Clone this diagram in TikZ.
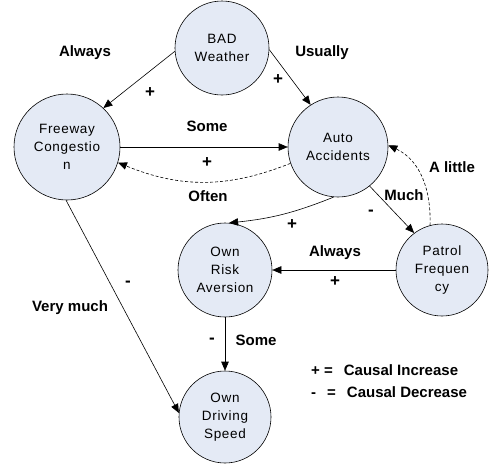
\documentclass[tikz,border=0pt]{standalone}
\usepackage{fontspec}
\setmainfont{Liberation Sans}
\newfontfamily\nodefont[LetterSpace=5]{Liberation Sans}
\usetikzlibrary{arrows.meta}
\definecolor{nodefill}{RGB}{228,234,245}
\begin{document}
\begin{tikzpicture}[x=1pt,y=-1pt,
 state/.style={circle,draw,fill=nodefill,inner sep=0pt,align=center,
   font=\nodefont\fontsize{13.5}{18}\selectfont,line width=0.6pt},
 lbl/.style={font=\bfseries\fontsize{15}{16}\selectfont,inner sep=0pt},
 sgn/.style={font=\bfseries\fontsize{17}{17}\selectfont,inner sep=0pt},
 arr/.style={-{Triangle[length=9pt,width=7.5pt]},line width=0.6pt},
 dsh/.style={arr,dashed,dash pattern=on 3pt off 2pt}]
\useasboundingbox (0,0) rectangle (494,466);
\node[state,minimum size=94pt] (bw) at (222,48) {BAD\\Weather};
\node[state,minimum size=106pt] (fw) at (67,147) {Freeway\\Congestio\\n};
\node[state,minimum size=100pt] (aa) at (338,147) {Auto\\Accidents};
\node[state,minimum size=94pt] (ra) at (225,270) {Own\\Risk\\Aversion};
\node[state,minimum size=92pt] (pf) at (442,270) {Patrol\\Frequen\\cy};
\node[state,minimum size=92pt] (ds) at (225,417) {Own\\Driving\\Speed};

\draw[arr] (bw.184) -- (fw.47);
\draw[arr] (bw.358) -- (aa.123);
\draw[arr] (fw.east) -- (aa.west);
\draw[dsh] (aa.199) to[bend left=22] (fw.343);
\draw[arr] (aa.-51) -- (pf.127);
\draw[dsh] (pf.105) to[out=88,in=-25] (aa.2);
\draw[arr] (aa.265) to[bend left=8] (ra.85);
\draw[arr] (pf.west) -- (ra.east);
\draw[arr] (ra.south) -- (ds.north);
\draw[arr] (fw.269) -- (ds.175);

\node[lbl] (l1) at (85,53) {Always};
\node[sgn] (l2) at (150,93) {+};
\node[lbl] (l3) at (322,53) {Usually};
\node[sgn] (l4) at (278,80) {+};
\node[lbl] (l5) at (207,126) {Some};
\node[sgn] (l6) at (207,163) {+};
\node[lbl] (l7) at (208,196) {Often};
\node[lbl] (l8) at (452,167) {A little};
\node[lbl] (l9) at (404,195) {Much};
\node[sgn] (l10) at (371,213) {-};
\node[sgn] (l11) at (292,225) {+};
\node[lbl] (l12) at (335,253) {Always};
\node[sgn] (l13) at (335,282) {+};
\node[sgn] (l14) at (128,284) {-};
\node[lbl] (l15) at (70,308) {Very much};
\node[sgn] (l16) at (212,341) {-};
\node[lbl] (l17) at (256,340) {Some};
\node[lbl,anchor=west] (k1) at (311,370) {+ =\hspace{11pt}Causal Increase};
\node[lbl,anchor=west] (k2) at (311,392) {-\hspace{11pt}=\hspace{11pt}Causal Decrease};
\end{tikzpicture}
\end{document}
